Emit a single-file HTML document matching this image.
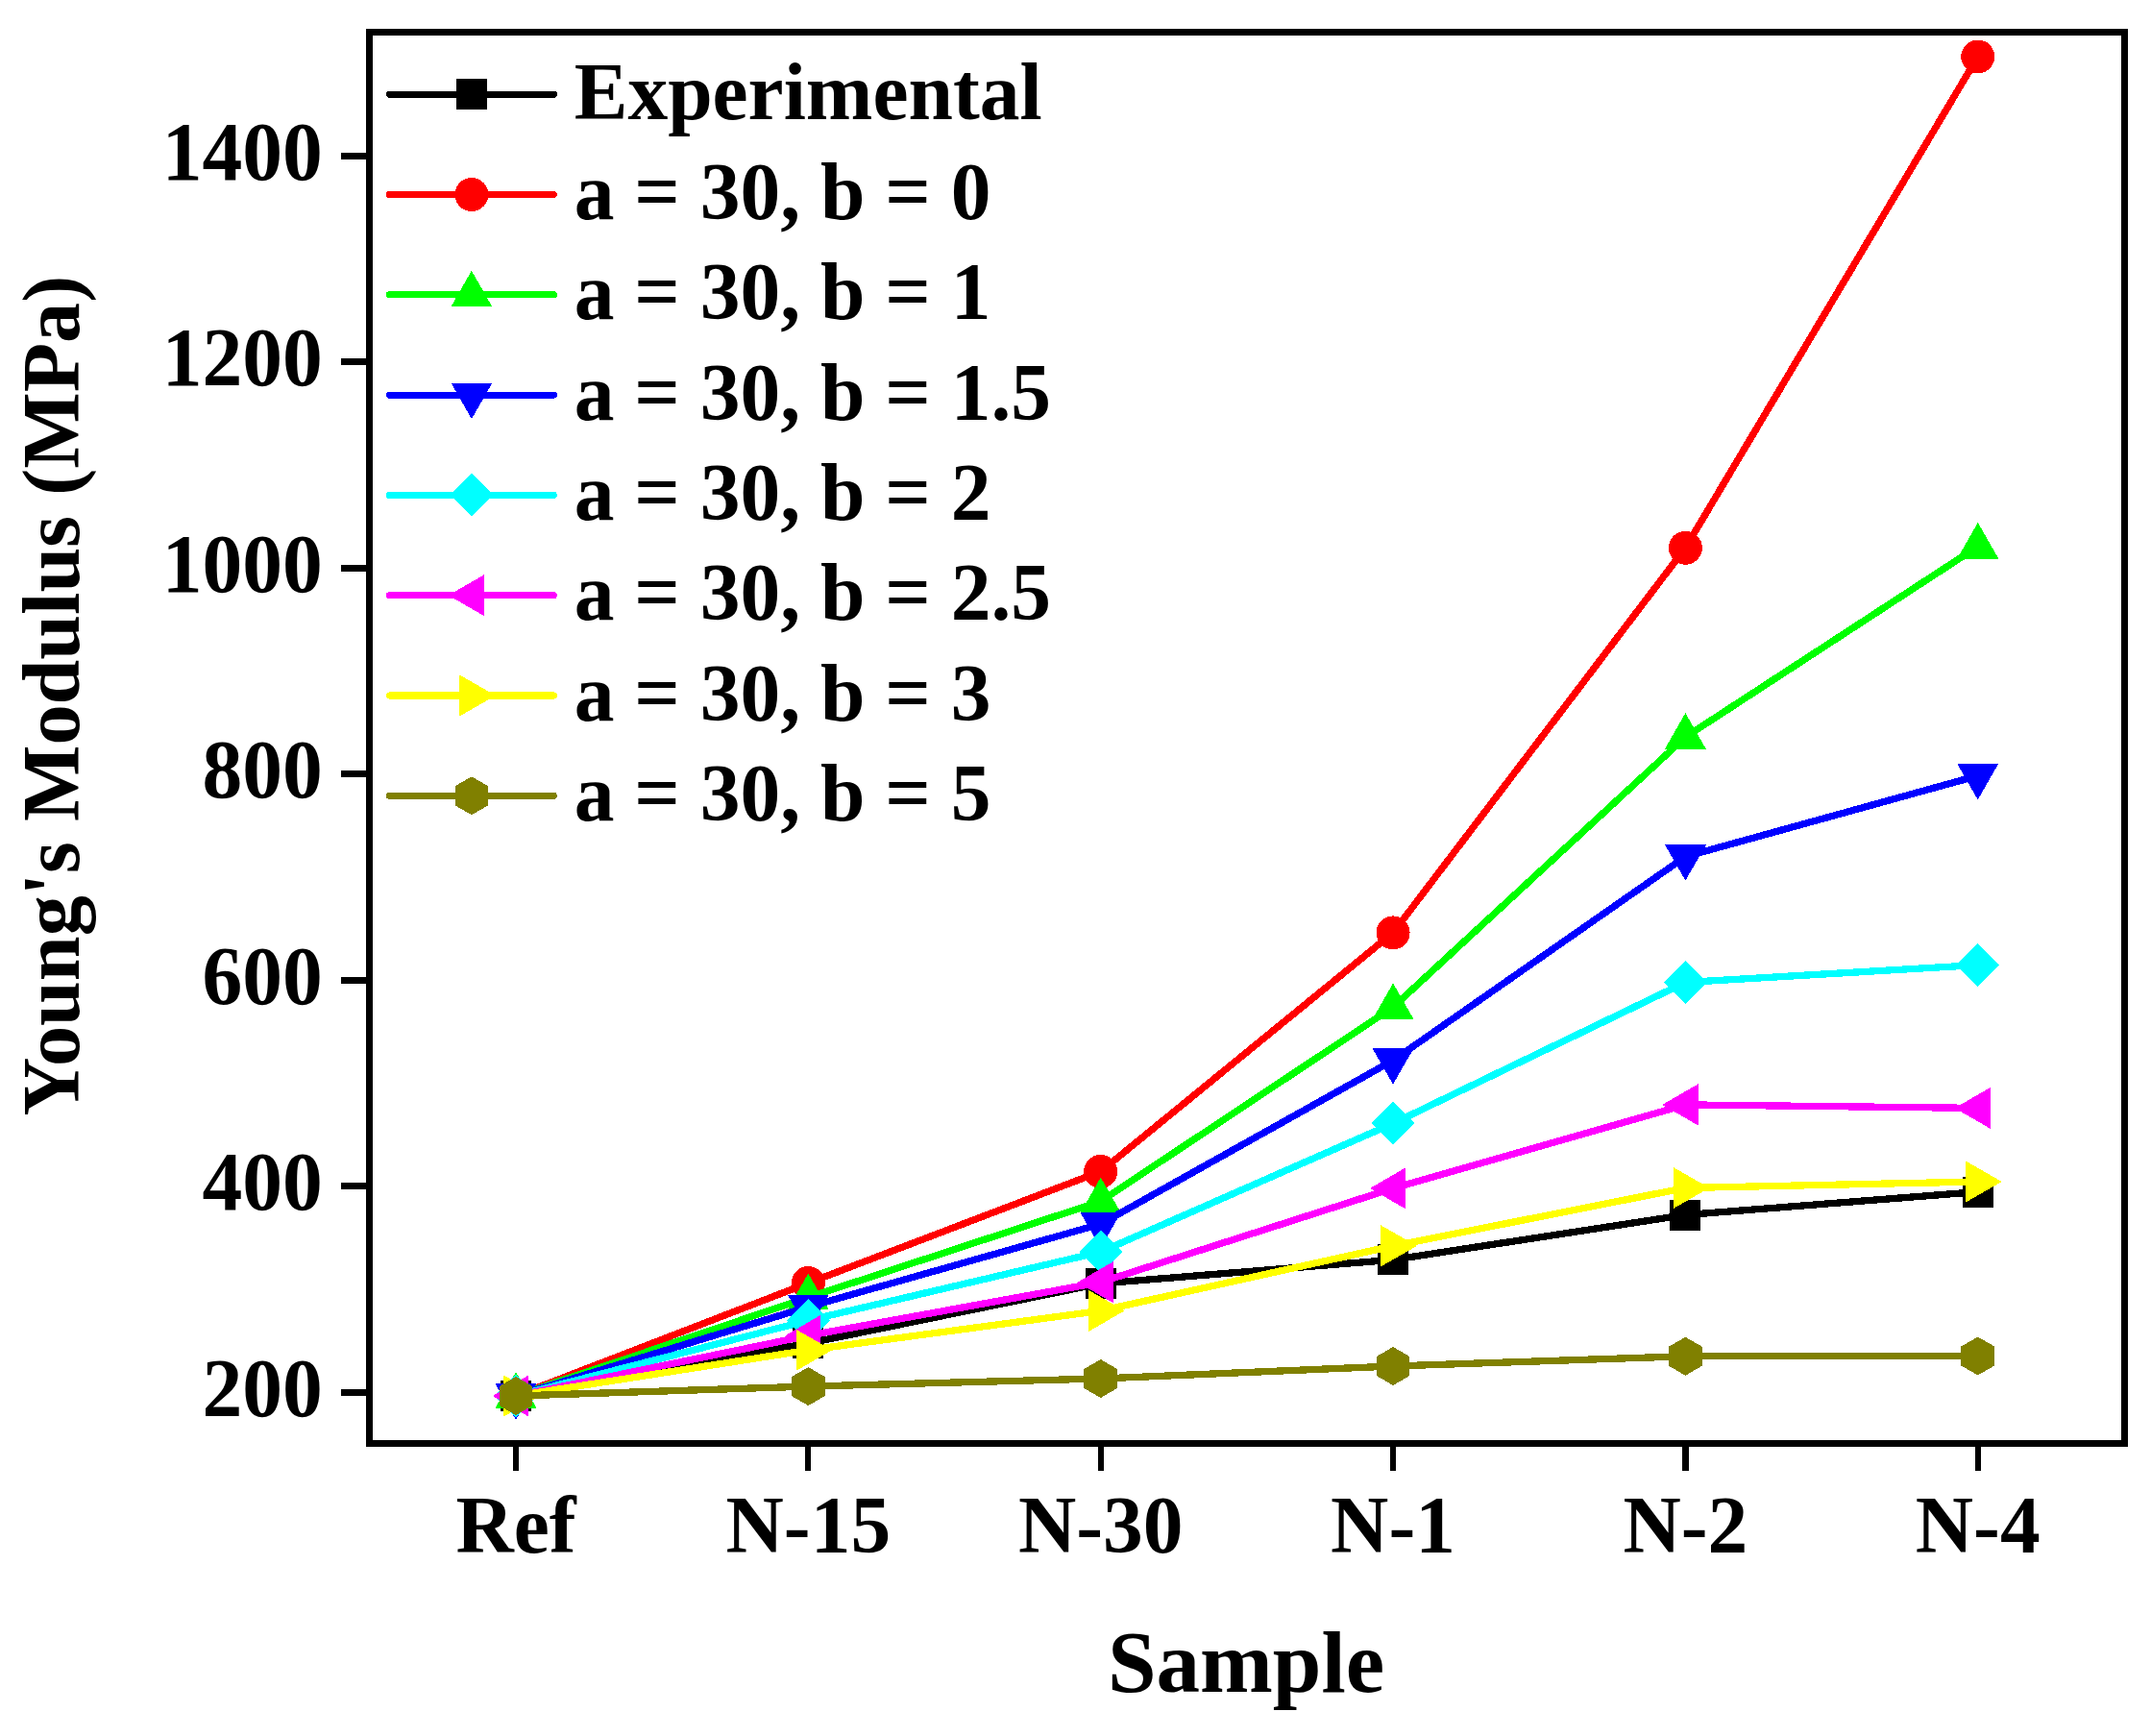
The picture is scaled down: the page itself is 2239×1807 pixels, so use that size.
<!DOCTYPE html>
<html lang="en"><head><meta charset="utf-8"><title>Young's Modulus vs Sample</title>
<style>html,body{margin:0;padding:0;background:#fff}body{width:2239px;height:1807px;overflow:hidden}svg{display:block}text{font-family:"Liberation Serif","Times New Roman",serif;font-weight:bold;fill:#000}</style>
</head><body>
<svg width="2239" height="1807" viewBox="0 0 2239 1807">
<rect width="2239" height="1807" fill="#fff"/>
<g id="data" shape-rendering="crispEdges">
<polyline points="537.00,1453.00 841.35,1398.25 1145.70,1336.00 1450.05,1311.30 1754.40,1264.60 2058.75,1240.60" fill="none" stroke="#000000" stroke-width="7.3" stroke-linejoin="round"/>
<rect x="521" y="1437" width="32" height="32" fill="#000000"/>
<rect x="825.35" y="1382.25" width="32" height="32" fill="#000000"/>
<rect x="1129.7" y="1320" width="32" height="32" fill="#000000"/>
<rect x="1434.05" y="1295.3" width="32" height="32" fill="#000000"/>
<rect x="1738.4" y="1248.6" width="32" height="32" fill="#000000"/>
<rect x="2042.75" y="1224.6" width="32" height="32" fill="#000000"/>
<polyline points="537.00,1453.00 841.35,1335.50 1145.70,1219.40 1450.05,970.90 1754.40,570.25 2058.75,59.00" fill="none" stroke="#ff0000" stroke-width="7.3" stroke-linejoin="round"/>
<circle cx="537" cy="1453" r="17.5" fill="#ff0000"/>
<circle cx="841.35" cy="1335.5" r="17.5" fill="#ff0000"/>
<circle cx="1145.7" cy="1219.4" r="17.5" fill="#ff0000"/>
<circle cx="1450.05" cy="970.9" r="17.5" fill="#ff0000"/>
<circle cx="1754.4" cy="570.25" r="17.5" fill="#ff0000"/>
<circle cx="2058.75" cy="59" r="17.5" fill="#ff0000"/>
<polyline points="537.00,1453.00 841.35,1350.50 1145.70,1250.50 1450.05,1048.40 1754.40,767.20 2058.75,568.90" fill="none" stroke="#00ff00" stroke-width="7.3" stroke-linejoin="round"/>
<polygon points="537,1428 515.5,1465.6 558.5,1465.6" fill="#00ff00"/>
<polygon points="841.35,1325.5 819.85,1363.1 862.85,1363.1" fill="#00ff00"/>
<polygon points="1145.7,1225.5 1124.2,1263.1 1167.2,1263.1" fill="#00ff00"/>
<polygon points="1450.05,1023.4 1428.55,1061 1471.55,1061" fill="#00ff00"/>
<polygon points="1754.4,742.2 1732.9,779.8 1775.9,779.8" fill="#00ff00"/>
<polygon points="2058.75,543.9 2037.25,581.5 2080.25,581.5" fill="#00ff00"/>
<polyline points="537.00,1453.00 841.35,1360.30 1145.70,1274.10 1450.05,1103.80 1754.40,891.70 2058.75,807.50" fill="none" stroke="#0000ff" stroke-width="7.3" stroke-linejoin="round"/>
<polygon points="537,1478 515.5,1440.4 558.5,1440.4" fill="#0000ff"/>
<polygon points="841.35,1385.3 819.85,1347.7 862.85,1347.7" fill="#0000ff"/>
<polygon points="1145.7,1299.1 1124.2,1261.5 1167.2,1261.5" fill="#0000ff"/>
<polygon points="1450.05,1128.8 1428.55,1091.2 1471.55,1091.2" fill="#0000ff"/>
<polygon points="1754.4,916.7 1732.9,879.1 1775.9,879.1" fill="#0000ff"/>
<polygon points="2058.75,832.5 2037.25,794.9 2080.25,794.9" fill="#0000ff"/>
<polyline points="537.00,1453.00 841.35,1374.40 1145.70,1303.10 1450.05,1169.40 1754.40,1022.50 2058.75,1004.50" fill="none" stroke="#00ffff" stroke-width="7.3" stroke-linejoin="round"/>
<polygon points="537,1430.5 559.5,1453 537,1475.5 514.5,1453" fill="#00ffff"/>
<polygon points="841.35,1351.9 863.85,1374.4 841.35,1396.9 818.85,1374.4" fill="#00ffff"/>
<polygon points="1145.7,1280.6 1168.2,1303.1 1145.7,1325.6 1123.2,1303.1" fill="#00ffff"/>
<polygon points="1450.05,1146.9 1472.55,1169.4 1450.05,1191.9 1427.55,1169.4" fill="#00ffff"/>
<polygon points="1754.4,1000 1776.9,1022.5 1754.4,1045 1731.9,1022.5" fill="#00ffff"/>
<polygon points="2058.75,982 2081.25,1004.5 2058.75,1027 2036.25,1004.5" fill="#00ffff"/>
<polyline points="537.00,1453.00 841.35,1390.25 1145.70,1334.70 1450.05,1236.90 1754.40,1149.90 2058.75,1153.40" fill="none" stroke="#ff00ff" stroke-width="7.3" stroke-linejoin="round"/>
<polygon points="512.9,1453 550.1,1431.5 550.1,1474.5" fill="#ff00ff"/>
<polygon points="817.25,1390.25 854.45,1368.75 854.45,1411.75" fill="#ff00ff"/>
<polygon points="1121.6,1334.7 1158.8,1313.2 1158.8,1356.2" fill="#ff00ff"/>
<polygon points="1425.95,1236.9 1463.15,1215.4 1463.15,1258.4" fill="#ff00ff"/>
<polygon points="1730.3,1149.9 1767.5,1128.4 1767.5,1171.4" fill="#ff00ff"/>
<polygon points="2034.65,1153.4 2071.85,1131.9 2071.85,1174.9" fill="#ff00ff"/>
<polyline points="537.00,1453.00 841.35,1405.30 1145.70,1364.40 1450.05,1296.90 1754.40,1236.50 2058.75,1230.00" fill="none" stroke="#ffff00" stroke-width="7.3" stroke-linejoin="round"/>
<polygon points="562,1453 524.4,1431.5 524.4,1474.5" fill="#ffff00"/>
<polygon points="866.35,1405.3 828.75,1383.8 828.75,1426.8" fill="#ffff00"/>
<polygon points="1170.7,1364.4 1133.1,1342.9 1133.1,1385.9" fill="#ffff00"/>
<polygon points="1475.05,1296.9 1437.45,1275.4 1437.45,1318.4" fill="#ffff00"/>
<polygon points="1779.4,1236.5 1741.8,1215 1741.8,1258" fill="#ffff00"/>
<polygon points="2083.75,1230 2046.15,1208.5 2046.15,1251.5" fill="#ffff00"/>
<polyline points="537.00,1453.00 841.35,1443.10 1145.70,1435.00 1450.05,1422.00 1754.40,1411.75 2058.75,1411.50" fill="none" stroke="#808000" stroke-width="7.3" stroke-linejoin="round"/>
<polygon points="537,1433 554.32,1443 554.32,1463 537,1473 519.68,1463 519.68,1443" fill="#808000"/>
<polygon points="841.35,1423.1 858.67,1433.1 858.67,1453.1 841.35,1463.1 824.03,1453.1 824.03,1433.1" fill="#808000"/>
<polygon points="1145.7,1415 1163.02,1425 1163.02,1445 1145.7,1455 1128.38,1445 1128.38,1425" fill="#808000"/>
<polygon points="1450.05,1402 1467.37,1412 1467.37,1432 1450.05,1442 1432.73,1432 1432.73,1412" fill="#808000"/>
<polygon points="1754.4,1391.75 1771.72,1401.75 1771.72,1421.75 1754.4,1431.75 1737.08,1421.75 1737.08,1401.75" fill="#808000"/>
<polygon points="2058.75,1391.5 2076.07,1401.5 2076.07,1421.5 2058.75,1431.5 2041.43,1421.5 2041.43,1401.5" fill="#808000"/>
</g>
<g id="axes" shape-rendering="crispEdges" stroke="#000" fill="none">
<rect x="384.25" y="33.5" width="1826.85" height="1468.95" stroke-width="7.0"/>
<line x1="355" x2="384.25" y1="1449.25" y2="1449.25" stroke-width="7"/>
<line x1="355" x2="384.25" y1="1234.75" y2="1234.75" stroke-width="7"/>
<line x1="355" x2="384.25" y1="1020.25" y2="1020.25" stroke-width="7"/>
<line x1="355" x2="384.25" y1="805.75" y2="805.75" stroke-width="7"/>
<line x1="355" x2="384.25" y1="591.25" y2="591.25" stroke-width="7"/>
<line x1="355" x2="384.25" y1="376.75" y2="376.75" stroke-width="7"/>
<line x1="355" x2="384.25" y1="162.25" y2="162.25" stroke-width="7"/>
<line x1="537.00" x2="537.00" y1="1502.45" y2="1530.8" stroke-width="6.2"/>
<line x1="841.35" x2="841.35" y1="1502.45" y2="1530.8" stroke-width="6.2"/>
<line x1="1145.70" x2="1145.70" y1="1502.45" y2="1530.8" stroke-width="6.2"/>
<line x1="1450.05" x2="1450.05" y1="1502.45" y2="1530.8" stroke-width="6.2"/>
<line x1="1754.40" x2="1754.40" y1="1502.45" y2="1530.8" stroke-width="6.2"/>
<line x1="2058.75" x2="2058.75" y1="1502.45" y2="1530.8" stroke-width="6.2"/>
</g>
<g id="ylabels" font-size="83.5" text-anchor="end">
<text transform="translate(335.8 1473.65) scale(1 1.03)">200</text>
<text transform="translate(335.8 1259.15) scale(1 1.03)">400</text>
<text transform="translate(335.8 1044.65) scale(1 1.03)">600</text>
<text transform="translate(335.8 830.15) scale(1 1.03)">800</text>
<text transform="translate(335.8 615.65) scale(1 1.03)">1000</text>
<text transform="translate(335.8 401.15) scale(1 1.03)">1200</text>
<text transform="translate(335.8 186.65) scale(1 1.03)">1400</text>
</g>
<g id="xlabels" font-size="83.5" text-anchor="middle">
<text transform="translate(537.00 1616.25) scale(1 1.02)">Ref</text>
<text transform="translate(841.35 1616.25) scale(1 1.02)">N-15</text>
<text transform="translate(1145.70 1616.25) scale(1 1.02)">N-30</text>
<text transform="translate(1450.05 1616.25) scale(1 1.02)">N-1</text>
<text transform="translate(1754.40 1616.25) scale(1 1.02)">N-2</text>
<text transform="translate(2058.75 1616.25) scale(1 1.02)">N-4</text>
</g>
<text id="xtitle" x="1297" y="1761.25" font-size="91" text-anchor="middle">Sample</text>
<text id="ytitle" transform="translate(81.9 724.2) rotate(-90)" font-size="84.2" text-anchor="middle">Young's Modulus (MPa)</text>
<g id="legend">
<g shape-rendering="crispEdges"><line x1="405.4" x2="576.3" y1="98.20" y2="98.20" stroke="#000000" stroke-width="7.1" stroke-linecap="round"/><rect x="474.9" y="82.2" width="32" height="32" fill="#000000"/></g>
<text transform="translate(597.7 123.75) scale(1 1.01)" font-size="83.5">Experimental</text>
<g shape-rendering="crispEdges"><line x1="405.4" x2="576.3" y1="202.50" y2="202.50" stroke="#ff0000" stroke-width="7.1" stroke-linecap="round"/><circle cx="490.9" cy="202.5" r="17.5" fill="#ff0000"/></g>
<text transform="translate(597.7 228.05) scale(1 1.01)" font-size="83.5">a = 30, b = 0</text>
<g shape-rendering="crispEdges"><line x1="405.4" x2="576.3" y1="306.80" y2="306.80" stroke="#00ff00" stroke-width="7.1" stroke-linecap="round"/><polygon points="490.9,281.8 469.4,319.4 512.4,319.4" fill="#00ff00"/></g>
<text transform="translate(597.7 332.35) scale(1 1.01)" font-size="83.5">a = 30, b = 1</text>
<g shape-rendering="crispEdges"><line x1="405.4" x2="576.3" y1="411.10" y2="411.10" stroke="#0000ff" stroke-width="7.1" stroke-linecap="round"/><polygon points="490.9,436.1 469.4,398.5 512.4,398.5" fill="#0000ff"/></g>
<text transform="translate(597.7 436.65) scale(1 1.01)" font-size="83.5">a = 30, b = 1.5</text>
<g shape-rendering="crispEdges"><line x1="405.4" x2="576.3" y1="515.40" y2="515.40" stroke="#00ffff" stroke-width="7.1" stroke-linecap="round"/><polygon points="490.9,492.9 513.4,515.4 490.9,537.9 468.4,515.4" fill="#00ffff"/></g>
<text transform="translate(597.7 540.95) scale(1 1.01)" font-size="83.5">a = 30, b = 2</text>
<g shape-rendering="crispEdges"><line x1="405.4" x2="576.3" y1="619.70" y2="619.70" stroke="#ff00ff" stroke-width="7.1" stroke-linecap="round"/><polygon points="466.8,619.7 504,598.2 504,641.2" fill="#ff00ff"/></g>
<text transform="translate(597.7 645.25) scale(1 1.01)" font-size="83.5">a = 30, b = 2.5</text>
<g shape-rendering="crispEdges"><line x1="405.4" x2="576.3" y1="724.00" y2="724.00" stroke="#ffff00" stroke-width="7.1" stroke-linecap="round"/><polygon points="515.9,724 478.3,702.5 478.3,745.5" fill="#ffff00"/></g>
<text transform="translate(597.7 749.55) scale(1 1.01)" font-size="83.5">a = 30, b = 3</text>
<g shape-rendering="crispEdges"><line x1="405.4" x2="576.3" y1="828.30" y2="828.30" stroke="#808000" stroke-width="7.1" stroke-linecap="round"/><polygon points="490.9,808.3 508.22,818.3 508.22,838.3 490.9,848.3 473.58,838.3 473.58,818.3" fill="#808000"/></g>
<text transform="translate(597.7 853.85) scale(1 1.01)" font-size="83.5">a = 30, b = 5</text>
</g>
</svg></body></html>
